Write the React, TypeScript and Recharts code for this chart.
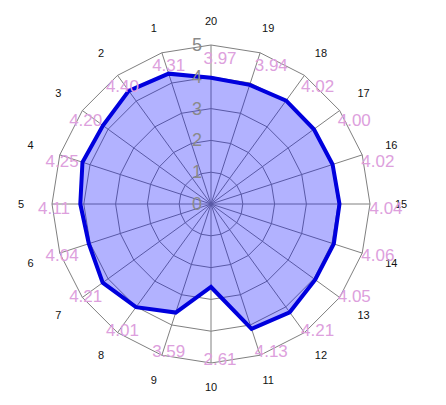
import React from 'react';
import { RadarChart, Radar, PolarGrid, PolarAngleAxis, PolarRadiusAxis } from 'recharts';

const categories = ['20', '19', '18', '17', '16', '15', '14', '13', '12', '11', '10', '9', '8', '7', '6', '5', '4', '3', '2', '1'];
const values = [3.97, 3.94, 4.02, 4.0, 4.02, 4.04, 4.06, 4.05, 4.21, 4.13, 2.61, 3.59, 4.01, 4.21, 4.04, 4.11, 4.25, 4.2, 4.4, 4.31];
const radiusTicks = [0, 1, 2, 3, 4, 5];

const data = categories.map((c, i) => ({ name: c, value: values[i] }));

const CX = 211;
const CY = 204;
const R = 159;

const AngleTick = (props: any) => {
  const { payload, index } = props;
  const deg = payload && typeof payload.coordinate === 'number' ? payload.coordinate : 90 - index * 18;
  const rad = (deg * Math.PI) / 180;
  const c = Math.cos(rad);
  const s = Math.sin(rad);
  const rl = 183 + 7 * Math.abs(c);
  const lx = CX + rl * c;
  const ly = CY - rl * s;
  const vx = CX + (R + 7) * c + 9;
  const vy = CY - (R - 8.5) * s + 4.5;
  const v = values[index];
  return (
    <g>
      <text x={lx} y={ly} textAnchor="middle" dominantBaseline="central" fontSize={11} fontFamily="Liberation Sans, Arial, sans-serif" fill="#111">
        {payload.value}
      </text>
      <text x={vx} y={vy} textAnchor="middle" dominantBaseline="central" fontSize={17} fontFamily="Liberation Sans, Arial, sans-serif" fill="#dda0dd">
        {v.toFixed(2)}
      </text>
    </g>
  );
};

const RadiusTick = (props: any) => {
  const { x, y, payload } = props;
  return (
    <text x={x - 14} y={y} textAnchor="middle" dominantBaseline="central" fontSize={18} fontFamily="Liberation Sans, Arial, sans-serif" fill="#8a8a8a">
      {payload.value}
    </text>
  );
};

export default function App() {
  return (
    <div style={{ position: 'absolute', left: 0, top: 0, background: '#fff' }}>
      <RadarChart width={446} height={405} data={data} cx={CX} cy={CY} outerRadius={R} margin={{ top: 0, right: 0, bottom: 0, left: 0 }}>
        <PolarGrid gridType="polygon" stroke="#808080" strokeWidth={1} />
        <Radar
          dataKey="value"
          stroke="#0000dd"
          strokeWidth={4}
          fill="#0000ff"
          fillOpacity={0.3}
          isAnimationActive={false}
        />
        <PolarRadiusAxis angle={90} domain={[0, 5]} ticks={radiusTicks as any} tickCount={6} axisLine={false} tick={<RadiusTick />} />
        <PolarAngleAxis dataKey="name" axisLine={false} tickLine={false} tick={<AngleTick />} />
      </RadarChart>
    </div>
  );
}
